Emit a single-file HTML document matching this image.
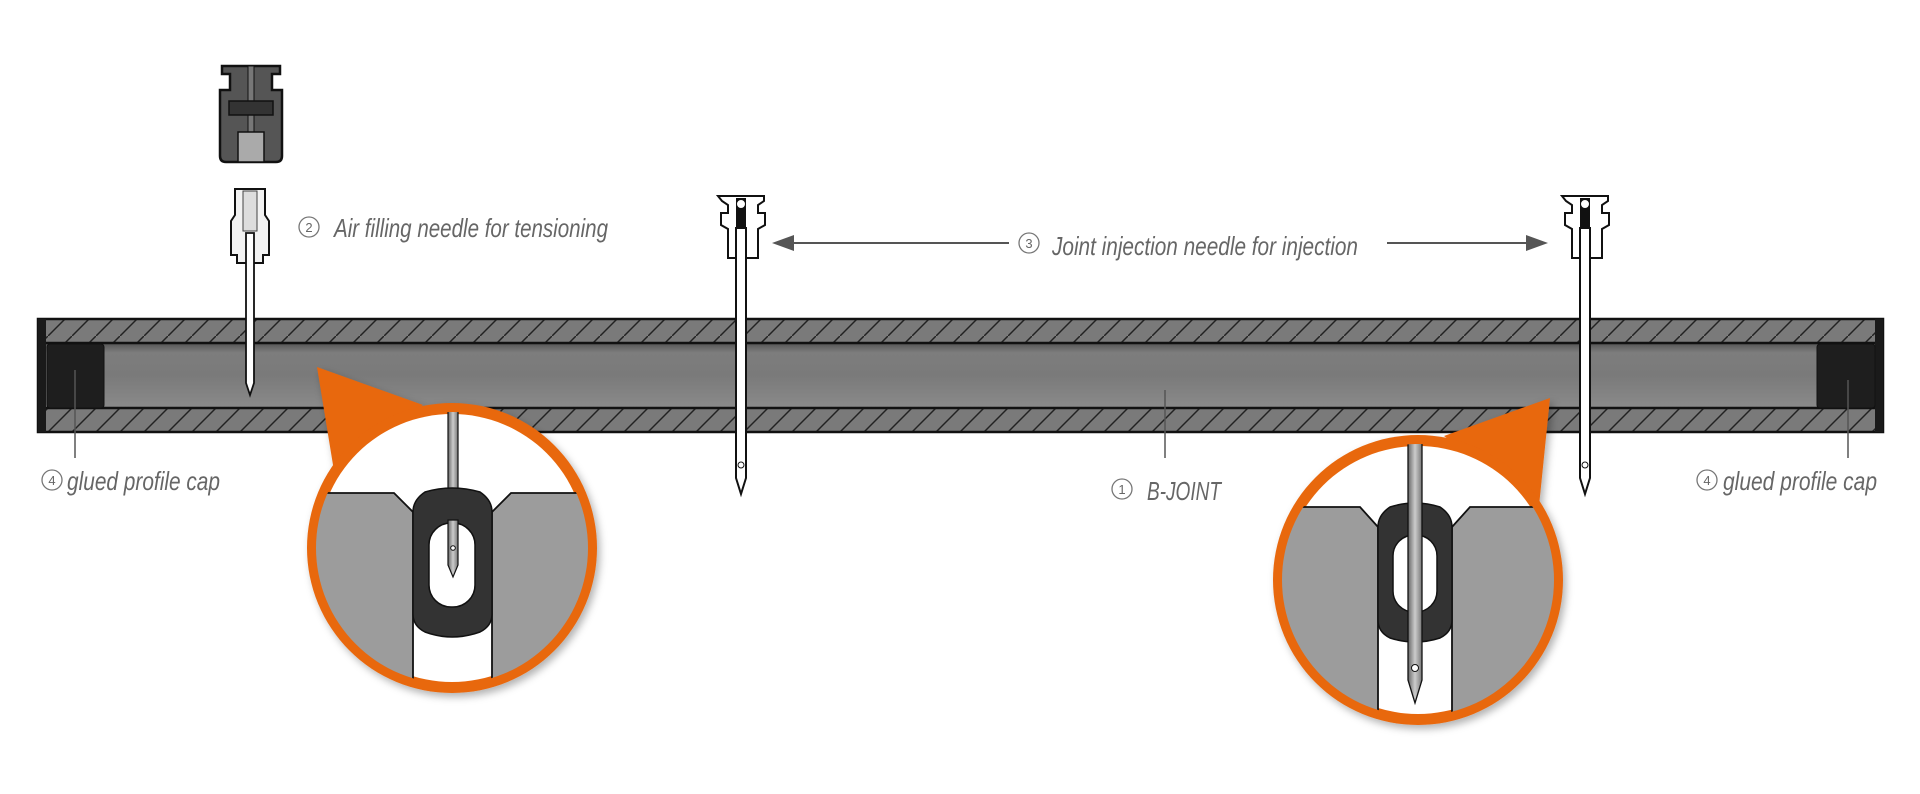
<!DOCTYPE html>
<html><head><meta charset="utf-8"><style>
html,body{margin:0;padding:0;background:#fff;}
svg{display:block;}
text{font-family:"Liberation Sans Narrow","Liberation Sans",sans-serif;font-style:italic;fill:#666;}
</style></head><body>
<svg width="1920" height="794" viewBox="0 0 1920 794" xmlns="http://www.w3.org/2000/svg">
<defs>
<pattern id="hatch" patternUnits="userSpaceOnUse" width="24" height="24" x="0" y="0">
<rect width="24" height="24" fill="#7a7a7a"/>
<line x1="-2" y1="26" x2="26" y2="-2" stroke="#222" stroke-width="1.5"/>
</pattern>
<linearGradient id="chan" x1="0" y1="0" x2="0" y2="1">
<stop offset="0" stop-color="#555"/><stop offset="0.15" stop-color="#7d7d7d"/><stop offset="0.5" stop-color="#7a7a7a"/><stop offset="1" stop-color="#8a8a8a"/>
</linearGradient>
<linearGradient id="ndl" x1="0" y1="0" x2="1" y2="0">
<stop offset="0" stop-color="#666"/><stop offset="0.5" stop-color="#ccc"/><stop offset="1" stop-color="#777"/>
</linearGradient>
<clipPath id="c1"><circle cx="452" cy="548" r="136"/></clipPath>
<clipPath id="c2"><circle cx="1418" cy="580" r="136"/></clipPath>
<filter id="sh" x="-20%" y="-20%" width="140%" height="140%"><feDropShadow dx="3" dy="4" stdDeviation="4" flood-opacity="0.3"/></filter>
</defs>

<!-- tube -->
<rect x="38" y="319" width="1845" height="113" fill="#333"/>
<rect x="46" y="320" width="1829" height="23" fill="url(#hatch)"/>
<rect x="46" y="408" width="1829" height="23" fill="url(#hatch)"/>
<rect x="46" y="343" width="1829" height="65" fill="url(#chan)"/>
<line x1="38" y1="343" x2="1883" y2="343" stroke="#111" stroke-width="2.5"/>
<line x1="38" y1="408" x2="1883" y2="408" stroke="#111" stroke-width="2.5"/>
<rect x="38" y="319" width="1845" height="113" fill="none" stroke="#111" stroke-width="2.5"/>
<rect x="38" y="319" width="8" height="113" fill="#1a1a1a"/>
<rect x="1875" y="319" width="8" height="113" fill="#1a1a1a"/>
<!-- caps -->
<rect x="47" y="344" width="57" height="64" rx="3" fill="#1e1e1e" stroke="#111"/>
<rect x="1817" y="344" width="58" height="64" rx="3" fill="#1e1e1e" stroke="#111"/>

<!-- valve -->
<path d="M222 66 h58 v8 h-8 v16 h10 v66 q0 6 -6 6 h-50 q-6 0 -6 -6 v-66 h10 v-16 h-8 z" fill="#555" stroke="#111" stroke-width="2.5"/>
<rect x="248" y="66" width="6" height="66" fill="#777" stroke="#111" stroke-width="1"/>
<rect x="229" y="101" width="44" height="14" fill="#333" stroke="#111" stroke-width="1.5"/>
<rect x="238" y="132" width="26" height="30" fill="#aaa" stroke="#111" stroke-width="1.5"/>
<!-- air needle hub -->
<path d="M235 189 h30 v26 l4 6 v34 h-6 v8 h-26 v-8 h-6 v-34 l4 -6 z" fill="#f2f2f2" stroke="#111" stroke-width="2"/>
<rect x="243" y="191" width="14" height="40" fill="#ddd" stroke="#444" stroke-width="1"/>
<path d="M246 233 h8 v150 l-4 12 l-4 -12 z" fill="#fff" stroke="#111" stroke-width="1.8"/>

<!-- injection needle 1 -->
<g>
<path d="M718 196 h46 v5 l-6 4 v8 h7 v12 l-7 4 v29 h-30 v-29 l-7 -4 v-12 h7 v-8 l-6 -4 z" fill="#fff" stroke="#111" stroke-width="2"/>
<rect x="736" y="198" width="10" height="30" fill="#111"/>
<circle cx="741" cy="204" r="4.5" fill="#fff" stroke="#111"/>
<path d="M736 228 h10 v250 l-5 16 l-5 -16 z" fill="#fff" stroke="#111" stroke-width="2"/>
<circle cx="741" cy="465" r="3" fill="#fff" stroke="#111"/>
</g>
<!-- injection needle 2 -->
<g transform="translate(844,0)">
<path d="M718 196 h46 v5 l-6 4 v8 h7 v12 l-7 4 v29 h-30 v-29 l-7 -4 v-12 h7 v-8 l-6 -4 z" fill="#fff" stroke="#111" stroke-width="2"/>
<rect x="736" y="198" width="10" height="30" fill="#111"/>
<circle cx="741" cy="204" r="4.5" fill="#fff" stroke="#111"/>
<path d="M736 228 h10 v250 l-5 16 l-5 -16 z" fill="#fff" stroke="#111" stroke-width="2"/>
<circle cx="741" cy="465" r="3" fill="#fff" stroke="#111"/>
</g>

<!-- arrows -->
<line x1="790" y1="243" x2="1009" y2="243" stroke="#555" stroke-width="2"/>
<path d="M772 243 l22 -8 v16 z" fill="#555"/>
<line x1="1387" y1="243" x2="1530" y2="243" stroke="#555" stroke-width="2"/>
<path d="M1548 243 l-22 -8 v16 z" fill="#555"/>

<!-- leaders -->
<line x1="75" y1="370" x2="75" y2="458" stroke="#555" stroke-width="1.5"/>
<line x1="1165" y1="390" x2="1165" y2="458" stroke="#555" stroke-width="1.5"/>
<line x1="1848" y1="380" x2="1848" y2="458" stroke="#555" stroke-width="1.5"/>

<!-- labels -->
<circle cx="309" cy="227" r="10" fill="none" stroke="#777" stroke-width="1.3"/>
<text x="309" y="232" font-size="13" text-anchor="middle" style="font-style:normal">2</text>
<text x="334" y="237" font-size="26" textLength="274" lengthAdjust="spacingAndGlyphs">Air filling needle for tensioning</text>

<circle cx="1029" cy="243" r="10" fill="none" stroke="#777" stroke-width="1.3"/>
<text x="1029" y="248" font-size="13" text-anchor="middle" style="font-style:normal">3</text>
<text x="1052" y="255" font-size="26" textLength="306" lengthAdjust="spacingAndGlyphs">Joint injection needle for injection</text>

<circle cx="1122" cy="489" r="10" fill="none" stroke="#777" stroke-width="1.3"/>
<text x="1122" y="494" font-size="13" text-anchor="middle" style="font-style:normal">1</text>
<text x="1147" y="500" font-size="26" textLength="74" lengthAdjust="spacingAndGlyphs">B-JOINT</text>

<circle cx="52" cy="480" r="10" fill="none" stroke="#777" stroke-width="1.3"/>
<text x="52" y="485" font-size="13" text-anchor="middle" style="font-style:normal">4</text>
<text x="67" y="490" font-size="26" textLength="153" lengthAdjust="spacingAndGlyphs">glued profile cap</text>

<circle cx="1707" cy="480" r="10" fill="none" stroke="#777" stroke-width="1.3"/>
<text x="1707" y="485" font-size="13" text-anchor="middle" style="font-style:normal">4</text>
<text x="1723" y="490" font-size="26" textLength="154" lengthAdjust="spacingAndGlyphs">glued profile cap</text>

<!-- magnifier 1 -->
<g filter="url(#sh)">
<path d="M317 367 L423 405 L334 471 Z" fill="#e8670e"/>
<circle cx="452" cy="548" r="145" fill="#e8670e"/>
</g>
<circle cx="452" cy="548" r="134" fill="#fff"/>
<g clip-path="url(#c1)">
<path d="M300 493 H394 L413 512 V700 H300 Z" fill="#9c9c9c" stroke="#111" stroke-width="1.8"/>
<path d="M610 493 H511 L492 512 V700 H610 Z" fill="#9c9c9c" stroke="#111" stroke-width="1.8"/>
<rect x="448" y="400" width="10" height="100" fill="url(#ndl)" stroke="#111" stroke-width="1.2"/>
<path d="M425 492 Q452 484 480 492 Q492 500 492 512 V614 Q492 626 480 632 Q452 642 425 632 Q413 626 413 614 V512 Q413 500 425 492 Z" fill="#333" stroke="#111" stroke-width="1.5"/>
<rect x="429" y="523" width="46" height="84" rx="22" fill="#fff" stroke="#111" stroke-width="1.5"/>
<path d="M448 520 h10 v45 l-5 12 l-5 -12 z" fill="url(#ndl)" stroke="#111" stroke-width="1.2"/>
<circle cx="453" cy="548" r="2.3" fill="#fff" stroke="#111"/>
</g>

<!-- magnifier 2 -->
<g filter="url(#sh)">
<path d="M1550 398 L1444 436 L1539 506 Z" fill="#e8670e"/>
<circle cx="1418" cy="580" r="145" fill="#e8670e"/>
</g>
<circle cx="1418" cy="580" r="134" fill="#fff"/>
<g clip-path="url(#c2)">
<path d="M1270 507 H1360 L1378 527 V730 H1270 Z" fill="#9c9c9c" stroke="#111" stroke-width="1.8"/>
<path d="M1570 507 H1470 L1452 527 V730 H1570 Z" fill="#9c9c9c" stroke="#111" stroke-width="1.8"/>
<path d="M1390 507 Q1415 499 1440 507 Q1452 515 1452 527 V620 Q1452 632 1440 638 Q1415 646 1390 638 Q1378 632 1378 620 V527 Q1378 515 1390 507 Z" fill="#333" stroke="#111" stroke-width="1.5"/>
<rect x="1393" y="535" width="44" height="77" rx="21" fill="#fff" stroke="#111" stroke-width="1.5"/>
<path d="M1408 430 h14 v250 l-7 23 l-7 -23 z" fill="url(#ndl)" stroke="#111" stroke-width="1.3"/>
<circle cx="1415" cy="668" r="3.5" fill="#fff" stroke="#111"/>
</g>
</svg>
</body></html>
